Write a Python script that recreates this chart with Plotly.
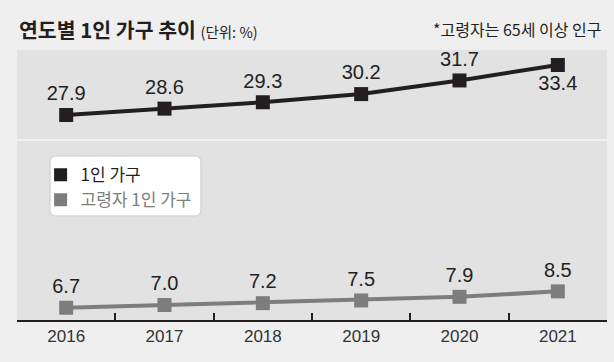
import plotly.graph_objects as go

years = ["2016", "2017", "2018", "2019", "2020", "2021"]
single = [27.9, 28.6, 29.3, 30.2, 31.7, 33.4]
elderly = [6.7, 7.0, 7.2, 7.5, 7.9, 8.5]
single_name = "1인 가구"
elderly_name = "고령자 1인 가구"
title_text = "연도별 1인 가구 추이"
unit_text = "(단위: %)"
note_text = "*고령자는 65세 이상 인구"

DARK = "#231f20"
GRAY = "#7d7d7d"
NUM_FONT = "Liberation Sans, Arial, sans-serif"
KR_FONT = "Noto Sans CJK KR, sans-serif"

fig = go.Figure()

single_pos = ["top center"] * (len(single) - 1) + ["bottom center"]

fig.add_trace(go.Scatter(
    x=years, y=single, mode="lines+markers+text",
    line=dict(color=DARK, width=4),
    marker=dict(symbol="square", size=14, color=DARK),
    text=[f"{v:.1f}" for v in single], textposition=single_pos,
    textfont=dict(family=NUM_FONT, size=20, color=DARK),
    showlegend=False, hoverinfo="skip", cliponaxis=False,
))
fig.add_trace(go.Scatter(
    x=years, y=elderly, mode="lines+markers+text",
    line=dict(color=GRAY, width=4),
    marker=dict(symbol="square", size=14, color=GRAY),
    text=[f"{v:.1f}" for v in elderly], textposition="top center",
    textfont=dict(family=NUM_FONT, size=20, color=DARK),
    showlegend=False, hoverinfo="skip", cliponaxis=False,
))
fig.add_trace(go.Scatter(
    x=[None], y=[None], mode="markers", name=single_name,
    marker=dict(symbol="square", size=13, color=DARK),
))
fig.add_trace(go.Scatter(
    x=[None], y=[None], mode="markers",
    name=f"<span style='color:{GRAY}'>{elderly_name}</span>",
    marker=dict(symbol="square", size=13, color=GRAY),
))

x0, x1, y0, y1 = 0.0559, 0.3119, 0.385, 0.607
rx, ry = 0.0102, 0.0222
path = (f"M {x0+rx},{y0} L {x1-rx},{y0} Q {x1},{y0} {x1},{y0+ry} "
        f"L {x1},{y1-ry} Q {x1},{y1} {x1-rx},{y1} "
        f"L {x0+rx},{y1} Q {x0},{y1} {x0},{y1-ry} "
        f"L {x0},{y0+ry} Q {x0},{y0} {x0+rx},{y0} Z")

fig.update_layout(
    width=614, height=362,
    margin=dict(l=17, r=7, t=50, b=42),
    paper_bgcolor="#efefef",
    plot_bgcolor="#e2e2e3",
    font=dict(family=KR_FONT, color=DARK),
    showlegend=True,
    legend=dict(
        x=0.04, y=0.603, xanchor="left", yanchor="top",
        bgcolor="rgba(0,0,0,0)", borderwidth=0,
        font=dict(family=KR_FONT, size=17, color=DARK),
        tracegroupgap=0, itemclick=False, itemdoubleclick=False,
    ),
    xaxis=dict(
        type="category", range=[-0.5, 5.5],
        showline=True, linecolor=DARK, linewidth=2,
        ticks="inside", tickson="boundaries", ticklen=7, tickwidth=2, tickcolor=DARK,
        showgrid=False, zeroline=False,
        tickfont=dict(family=NUM_FONT, size=17, color="#333333"),
        fixedrange=True,
    ),
    yaxis=dict(
        range=[5.35, 35.05], showticklabels=False, ticks="",
        showgrid=False, zeroline=False, showline=False, fixedrange=True,
    ),
    shapes=[
        dict(type="line", xref="paper", yref="paper", x0=0, x1=1, y0=2/3, y1=2/3,
             line=dict(color="#f7f7f7", width=1.5), layer="below"),
        dict(type="path", xref="paper", yref="paper", path=path,
             fillcolor="white", line=dict(color="#d6d6d6", width=1.5), layer="above"),
    ],
    annotations=[
        dict(xref="paper", yref="paper", x=0, y=1.078, xanchor="left", yanchor="middle",
             showarrow=False,
             text=f"<b>{title_text}</b> <span style='font-size:14.5px'>{unit_text}</span>",
             font=dict(family=KR_FONT, size=20.5, color=DARK)),
        dict(xref="paper", yref="paper", x=0.993, y=1.078, xanchor="right", yanchor="middle",
             showarrow=False, text=note_text,
             font=dict(family=KR_FONT, size=16, color=DARK)),
    ],
)

fig.write_html("out.html", config={"displayModeBar": False},
               post_script="document.body.style.margin='0';document.body.style.overflow='hidden';")
